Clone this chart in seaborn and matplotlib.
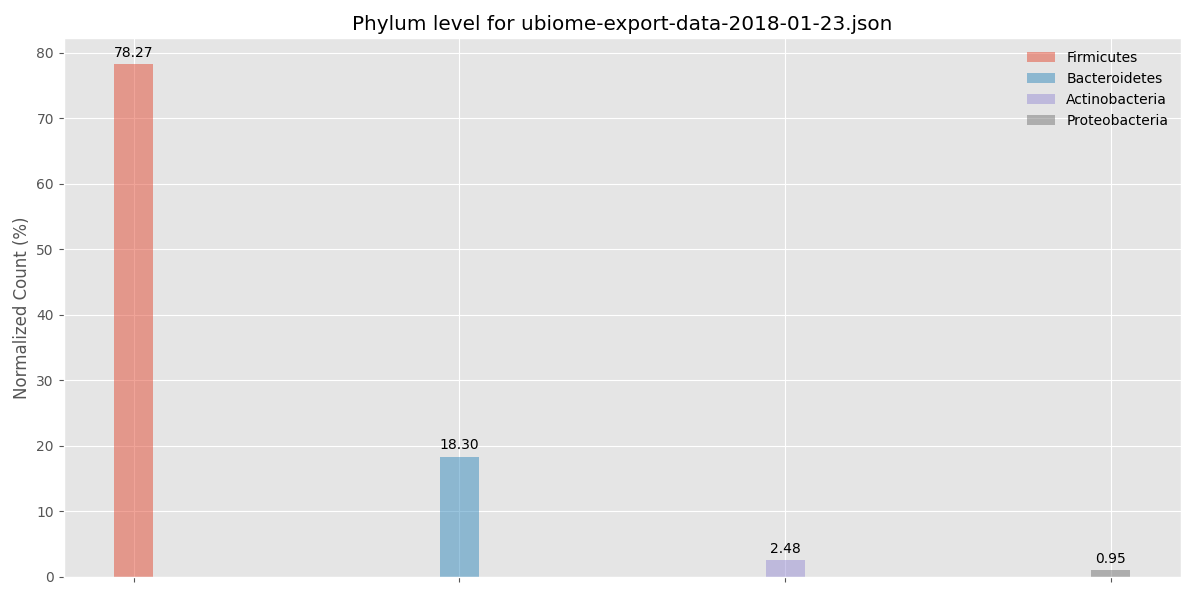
import matplotlib
matplotlib.use("Agg")
import matplotlib.pyplot as plt
import seaborn as sns
import pandas as pd

phyla = ["Firmicutes", "Bacteroidetes", "Actinobacteria", "Proteobacteria"]
counts = [78.27, 18.30, 2.48, 0.95]
colors = ["#E24A33", "#348ABD", "#988ED5", "#777777"]

plt.style.use("ggplot")

df = pd.DataFrame({"phylum": phyla, "count": counts})

fig, ax = plt.subplots(figsize=(12, 6), dpi=100)
sns.barplot(data=df, x="phylum", y="count", hue="phylum", palette=colors,
            dodge=False, width=0.12, alpha=0.5, saturation=1, legend=True, ax=ax)

for container in ax.containers:
    ax.bar_label(container, fmt="%.2f", padding=3, fontsize=10)

ax.set_xlim(-0.215, 3.215)
ax.set_ylim(0, max(counts) * 1.05)
ax.grid(True, axis="both", color="white")
ax.set_axisbelow(True)
ax.set_xticklabels([])
ax.set_xlabel("")
ax.set_ylabel("Normalized Count (%)")
ax.set_title("Phylum level for ubiome-export-data-2018-01-23.json")
leg = ax.legend(loc="upper right", frameon=False)

plt.tight_layout()
fig.subplots_adjust(left=0.053, right=0.984)
plt.savefig("out.png", dpi=100)
